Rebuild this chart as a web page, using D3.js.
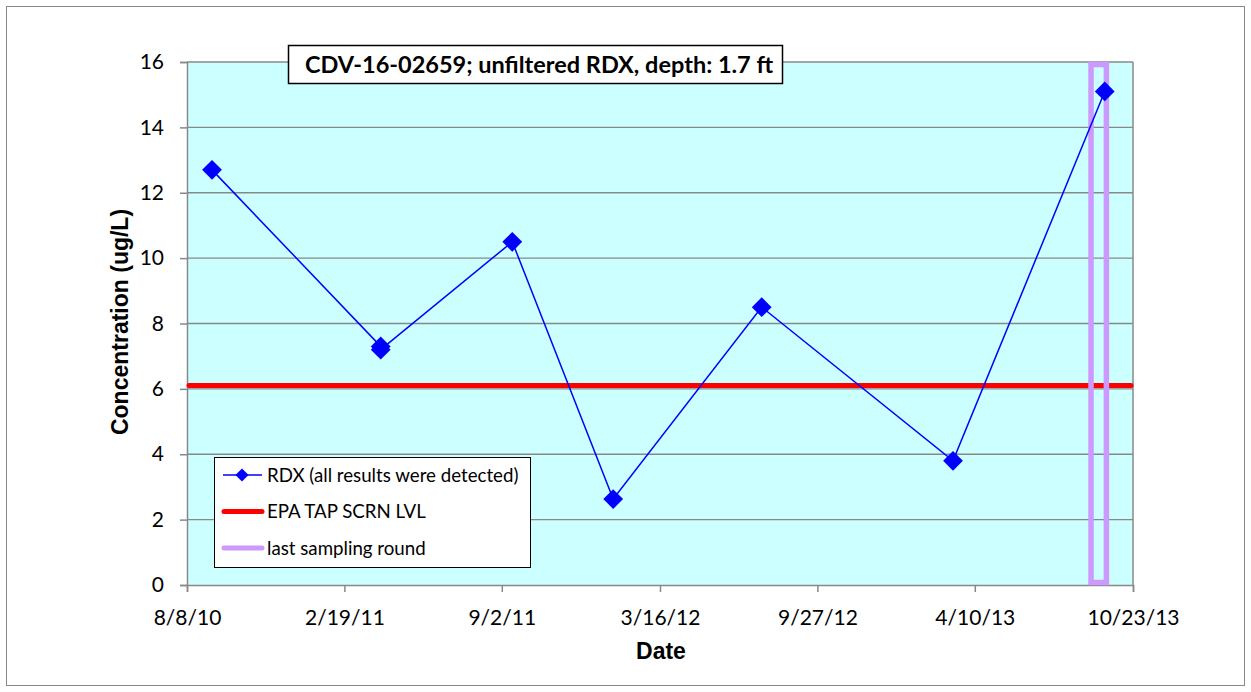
<!DOCTYPE html>
<html>
<head>
<meta charset="utf-8">
<script src="https://cdn.jsdelivr.net/npm/d3@7"></script>
<style>
  body { margin: 0; background: #fff; }
  svg { display: block; }
</style>
</head>
<body>
<script>
// sample dates and RDX results (ug/L)
const sampleDates = ["2010-09-08", "2011-04-05", "2011-04-05", "2011-09-15", "2012-01-18", "2012-07-20", "2013-03-14", "2013-09-18"];
const rdxValues = [12.7, 7.3, 7.2, 10.5, 2.63, 8.5, 3.8, 15.1];
const screeningLevel = 6.1;
const lastRound = ["2013-09-01", "2013-09-20"];
const xTickLabels = ["8/8/10", "2/19/11", "9/2/11", "3/16/12", "9/27/12", "4/10/13", "10/23/13"];
const yTicks = [0, 2, 4, 6, 8, 10, 12, 14, 16];
const legendLabels = ["RDX (all results were detected)", "EPA TAP SCRN LVL", "last sampling round"];

const W = 1251, H = 692;
const m = {left: 187, right: 1133, top: 62, bottom: 585};
const parse = d3.timeParse("%Y-%m-%d");
const fmt = d3.timeFormat("%-m/%-d/%y");
const tickFont = "Lato, 'Open Sans', sans-serif";
const arial = "'Liberation Sans', Arial, sans-serif";

const svg = d3.select("body").append("svg").attr("width", W).attr("height", H);

svg.append("rect").attr("x", 6.5).attr("y", 6.5).attr("width", W - 13).attr("height", H - 13)
  .attr("fill", "#fff").attr("stroke", "#888").attr("stroke-width", 1);

const xTickDates = xTickLabels.map(s => d3.timeParse("%-m/%-d/%y")(s));
const x = d3.scaleTime().domain([xTickDates[0], xTickDates[xTickDates.length - 1]]).range([m.left, m.right]);
const y = d3.scaleLinear().domain([0, 16]).range([m.bottom, m.top]);

// plot area
svg.append("rect").attr("x", m.left).attr("y", m.top).attr("width", m.right - m.left).attr("height", m.bottom - m.top)
  .attr("fill", "#ccffff");

// gridlines
svg.append("g").selectAll("line").data(yTicks.filter(d => d > 0)).join("line")
  .attr("x1", m.left).attr("x2", m.right).attr("y1", d => y(d)).attr("y2", d => y(d))
  .attr("stroke", "#888").attr("stroke-width", 1.3);
svg.append("line").attr("x1", m.right).attr("x2", m.right).attr("y1", m.top).attr("y2", m.bottom)
  .attr("stroke", "#888").attr("stroke-width", 1.5);

// axes
const yAxis = svg.append("g").attr("transform", `translate(${m.left},0)`)
  .call(d3.axisLeft(y).tickValues(yTicks).tickSize(7).tickPadding(16));
const xAxis = svg.append("g").attr("transform", `translate(0,${m.bottom})`)
  .call(d3.axisBottom(x).tickValues(xTickDates).tickFormat(fmt).tickSize(7).tickPadding(18));
[yAxis, xAxis].forEach(g => {
  g.selectAll("path, line").attr("stroke", "#888").attr("stroke-width", 1.5);
  g.selectAll("text").attr("font-family", tickFont).attr("font-size", 21).attr("fill", "#000");
});

// screening level
svg.append("line").attr("x1", m.left + 2).attr("x2", m.right - 2)
  .attr("y1", y(screeningLevel)).attr("y2", y(screeningLevel))
  .attr("stroke", "#ff0000").attr("stroke-width", 5).attr("stroke-linecap", "round");

// last sampling round marker
svg.append("rect")
  .attr("x", x(parse(lastRound[0]))).attr("y", m.top + 2.5)
  .attr("width", x(parse(lastRound[1])) - x(parse(lastRound[0])))
  .attr("height", m.bottom - m.top - 5)
  .attr("fill", "none").attr("stroke", "#cc99ff").attr("stroke-width", 5.5);

// RDX series
const pts = sampleDates.map((d, i) => ({date: parse(d), v: rdxValues[i]}));
svg.append("path").datum(pts)
  .attr("d", d3.line().x(d => x(d.date)).y(d => y(d.v)))
  .attr("fill", "none").attr("stroke", "#0000ff").attr("stroke-width", 1.5);
const diamond = d3.symbol().type(d3.symbolDiamond2).size(250);
svg.append("g").selectAll("path").data(pts).join("path")
  .attr("transform", d => `translate(${x(d.date)},${y(d.v)})`)
  .attr("d", diamond).attr("fill", "#0000ff");

// title box
svg.append("rect").attr("x", 288.5).attr("y", 45.5).attr("width", 494).attr("height", 38)
  .attr("fill", "#fff").attr("stroke", "#000").attr("stroke-width", 1.5);
svg.append("text").attr("x", 539).attr("y", 72.5).attr("text-anchor", "middle")
  .attr("font-family", tickFont).attr("font-weight", "bold").attr("font-size", 23.5)
  .text("CDV-16-02659; unfiltered RDX, depth: 1.7 ft");

// axis titles
svg.append("text").attr("x", 661).attr("y", 659).attr("text-anchor", "middle")
  .attr("font-family", arial).attr("font-weight", "bold").attr("font-size", 23)
  .text("Date");
svg.append("text").attr("transform", "translate(128,322) rotate(-90)").attr("text-anchor", "middle")
  .attr("font-family", arial).attr("font-weight", "bold").attr("font-size", 23)
  .text("Concentration (ug/L)");

// legend
const lg = svg.append("g");
lg.append("rect").attr("x", 214.5).attr("y", 457.5).attr("width", 316).attr("height", 110)
  .attr("fill", "#fff").attr("stroke", "#000").attr("stroke-width", 1);
const legRows = legendLabels.map((t, i) => ({t, i, yy: 475 + i * 36.5}));
lg.selectAll("text").data(legRows).join("text")
  .attr("x", 267).attr("y", d => d.yy + 6.5)
  .attr("font-family", tickFont).attr("font-size", 18.7).text(d => d.t);
lg.append("line").attr("x1", 223).attr("x2", 262).attr("y1", legRows[0].yy).attr("y2", legRows[0].yy)
  .attr("stroke", "#0000ff").attr("stroke-width", 1.5);
lg.append("path").attr("transform", `translate(242,${legRows[0].yy})`)
  .attr("d", d3.symbol().type(d3.symbolDiamond2).size(110)).attr("fill", "#0000ff");
lg.append("line").attr("x1", 224).attr("x2", 262).attr("y1", legRows[1].yy).attr("y2", legRows[1].yy)
  .attr("stroke", "#ff0000").attr("stroke-width", 5).attr("stroke-linecap", "round");
lg.append("line").attr("x1", 224).attr("x2", 262).attr("y1", legRows[2].yy).attr("y2", legRows[2].yy)
  .attr("stroke", "#cc99ff").attr("stroke-width", 5).attr("stroke-linecap", "round");
</script>
</body>
</html>
